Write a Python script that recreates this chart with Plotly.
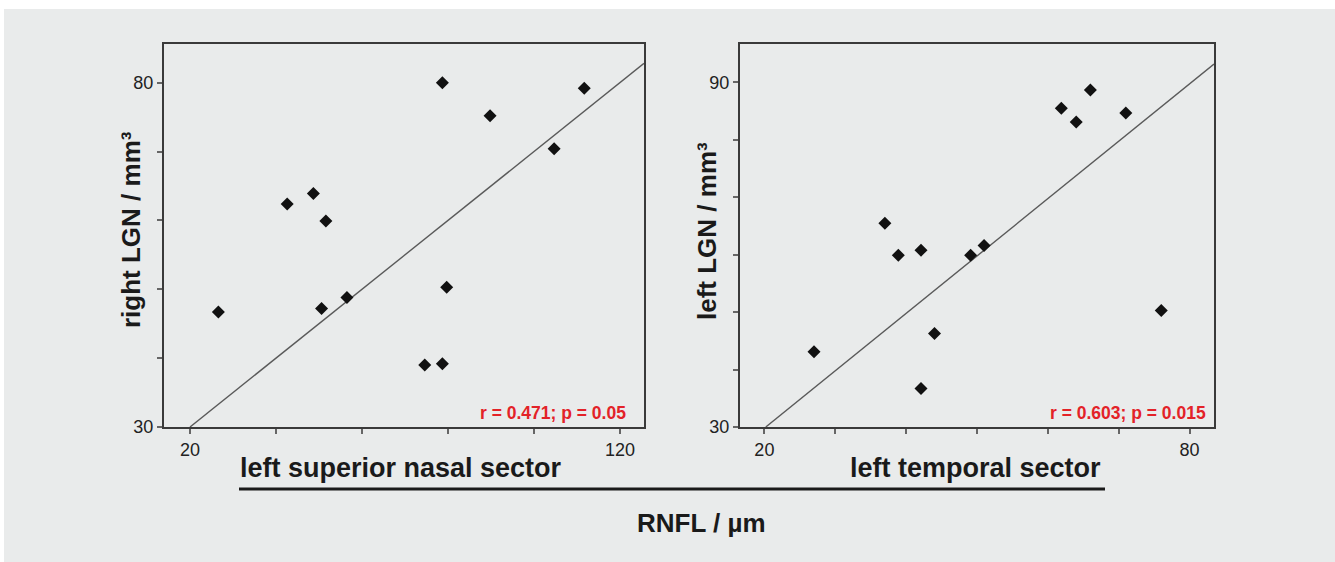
import plotly.graph_objects as go
from plotly.subplots import make_subplots

# ---- data ----
nasal_x = [26.6, 42.6, 48.7, 51.6, 50.6, 56.5, 78.7, 79.7, 74.6, 78.7, 89.8, 104.7, 111.7]
nasal_y = [46.7, 62.4, 63.9, 59.9, 47.2, 48.8, 80.0, 50.3, 39.0, 39.2, 75.2, 70.4, 79.2]
nasal_fit_x = [20.0, 125.6]
nasal_fit_y = [30.0, 82.8]

temporal_x = [27.0, 37.0, 38.9, 42.1, 44.0, 42.1, 49.1, 51.0, 61.9, 64.0, 66.0, 71.0, 76.0]
temporal_y = [43.1, 65.5, 59.9, 60.8, 46.3, 36.7, 59.9, 61.6, 85.5, 83.1, 88.7, 84.7, 50.3]
temporal_fit_x = [20.2, 83.44]
temporal_fit_y = [30.0, 93.2]

left_xticks = [20, 40, 60, 80, 100, 120]
left_xlabels = ["20", "", "", "", "", "120"]
left_yticks = [30, 40, 50, 60, 70, 80]
left_ylabels = ["30", "", "", "", "", "80"]
right_xticks = [20, 30, 40, 50, 60, 70, 80]
right_xlabels = ["20", "", "", "", "", "", "80"]
right_yticks = [30, 40, 50, 60, 70, 80, 90]
right_ylabels = ["30", "", "", "", "", "", "90"]

stat_left = "r = 0.471; p = 0.05"
stat_right = "r = 0.603; p = 0.015"
ytitle_left = "right LGN / mm³"
ytitle_right = "left LGN / mm³"
xlabel_left = "left superior nasal sector"
xlabel_right = "left temporal sector"
xlabel_common = "RNFL / µm"

# ---- figure ----
W, H = 1335, 562
L, R, T, B = 164, 121, 44, 135
PW, PH = W - L - R, H - T - B

def px(x):
    return (x - L) / PW

def py(y):
    return (H - B - y) / PH

fig = make_subplots(rows=1, cols=2)
fig.update_layout(
    xaxis=dict(domain=[0, px(644)]),
    xaxis2=dict(domain=[px(740), 1]),
)

FONT = "Liberation Sans, Arial, sans-serif"
mk = dict(symbol="diamond", size=10, color="#111111", line=dict(width=0))
ln = dict(color="#5a5a5a", width=1.4)

fig.add_trace(go.Scatter(x=nasal_fit_x, y=nasal_fit_y, mode="lines", line=ln,
                         showlegend=False, hoverinfo="skip"), row=1, col=1)
fig.add_trace(go.Scatter(x=nasal_x, y=nasal_y, mode="markers", marker=mk,
                         showlegend=False), row=1, col=1)
fig.add_trace(go.Scatter(x=temporal_fit_x, y=temporal_fit_y, mode="lines", line=ln,
                         showlegend=False, hoverinfo="skip"), row=1, col=2)
fig.add_trace(go.Scatter(x=temporal_x, y=temporal_y, mode="markers", marker=mk,
                         showlegend=False), row=1, col=2)

axcommon = dict(showgrid=False, zeroline=False, showline=True, mirror=True,
                linecolor="#3a3a3a", linewidth=2, ticks="outside", ticklen=5,
                tickwidth=1.5, tickcolor="#666666",
                tickfont=dict(family=FONT, size=18, color="#222222"))

fig.update_xaxes(**axcommon)
fig.update_yaxes(**axcommon)
fig.update_xaxes(range=[13.95, 125.6], tickmode="array", tickvals=left_xticks,
                 ticktext=left_xlabels, row=1, col=1)
fig.update_yaxes(range=[30, 85.62], tickmode="array", tickvals=left_yticks,
                 ticktext=left_ylabels, row=1, col=1)
fig.update_xaxes(range=[16.56, 83.44], tickmode="array", tickvals=right_xticks,
                 ticktext=right_xlabels, row=1, col=2)
fig.update_yaxes(range=[30, 96.7], tickmode="array", tickvals=right_yticks,
                 ticktext=right_ylabels, row=1, col=2)

shapes = [
    dict(type="rect", xref="paper", yref="paper", x0=px(4), x1=px(W + 20),
         y0=py(H + 20), y1=py(9), fillcolor="#e9ebeb", line=dict(width=0),
         layer="below"),
    dict(type="line", xref="paper", yref="paper", x0=px(239), x1=px(1105),
         y0=py(489), y1=py(489), line=dict(color="#1a1a1a", width=3)),
]

annotations = [
    dict(text=f"<b>{stat_left}</b>", xref="paper", yref="paper", x=px(628), y=py(413),
         xanchor="right", yanchor="middle", showarrow=False,
         font=dict(family=FONT, size=17.5, color="#e32228")),
    dict(text=f"<b>{stat_right}</b>", xref="paper", yref="paper", x=px(1208), y=py(413),
         xanchor="right", yanchor="middle", showarrow=False,
         font=dict(family=FONT, size=17.5, color="#e32228")),
    dict(text=f"<b>{ytitle_left}</b>", xref="paper", yref="paper", x=px(131), y=py(230),
         xanchor="center", yanchor="middle", textangle=-90, showarrow=False,
         font=dict(family=FONT, size=26, color="#1a1a1a")),
    dict(text=f"<b>{ytitle_right}</b>", xref="paper", yref="paper", x=px(707), y=py(231),
         xanchor="center", yanchor="middle", textangle=-90, showarrow=False,
         font=dict(family=FONT, size=26, color="#1a1a1a")),
    dict(text=f"<b>{xlabel_left}</b>", xref="paper", yref="paper", x=px(401), y=py(468),
         xanchor="center", yanchor="middle", showarrow=False,
         font=dict(family=FONT, size=27, color="#1a1a1a")),
    dict(text=f"<b>{xlabel_right}</b>", xref="paper", yref="paper", x=px(975), y=py(468),
         xanchor="center", yanchor="middle", showarrow=False,
         font=dict(family=FONT, size=27, color="#1a1a1a")),
    dict(text=f"<b>{xlabel_common}</b>", xref="paper", yref="paper", x=px(701), y=py(523),
         xanchor="center", yanchor="middle", showarrow=False,
         font=dict(family=FONT, size=26, color="#1a1a1a")),
]

fig.update_layout(
    width=W, height=H, autosize=False,
    margin=dict(l=L, r=R, t=T, b=B),
    paper_bgcolor="white", plot_bgcolor="white",
    shapes=shapes, annotations=annotations,
    showlegend=False,
)

fig.write_html("out.html", config={"displayModeBar": False})
